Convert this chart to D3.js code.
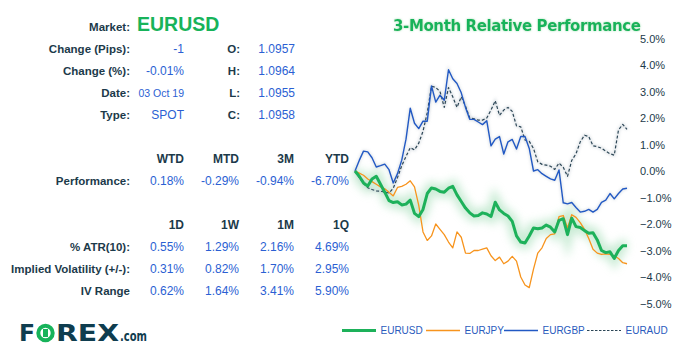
<!DOCTYPE html>
<html><head><meta charset="utf-8">
<script src="https://cdn.jsdelivr.net/npm/d3@7"></script>
<style>body{margin:0;background:#fff}svg{display:block}</style>
</head><body>
<svg id="c" width="678" height="356"></svg>
<script>
// ---- data ----
const market = "EURUSD";
const infoLabels = ["Change (Pips):", "Change (%):", "Date:", "Type:"];
const infoValues = ["-1", "-0.01%", "03 Oct 19", "SPOT"];
const ohlcLabels = ["O:", "H:", "L:", "C:"];
const ohlcValues = ["1.0957", "1.0964", "1.0955", "1.0958"];
const perfHeaders = ["WTD", "MTD", "3M", "YTD"];
const perfValues = ["0.18%", "-0.29%", "-0.94%", "-6.70%"];
const volHeaders = ["1D", "1W", "1M", "1Q"];
const volRows = ["% ATR(10):", "Implied Volatility (+/-):", "IV Range"];
const volValues = [
  ["0.55%", "1.29%", "2.16%", "4.69%"],
  ["0.31%", "0.82%", "1.70%", "2.95%"],
  ["0.62%", "1.64%", "3.41%", "5.90%"]
];
const yTicks = [5, 4, 3, 2, 1, 0, -1, -2, -3, -4, -5];
const seriesNames = ["EURUSD", "EURJPY", "EURGBP", "EURAUD"];
const eurusd = [0,-0.2,-0.45,-0.57,-0.3,-0.2,-0.5,-0.8,-1.12,-1.19,-1.16,-1.28,-1.25,-1.1,-1.6,-1.72,-1.45,-0.85,-0.64,-0.68,-0.77,-0.8,-0.65,-0.58,-0.9,-1.15,-1.4,-1.58,-1.7,-1.68,-1.58,-1.62,-1.72,-1.18,-1.47,-1.6,-1.7,-1.9,-2.45,-2.68,-2.72,-2.45,-2.15,-2.18,-2.15,-2.04,-2.12,-2.3,-1.86,-1.8,-2.4,-1.78,-2.1,-2.13,-2.25,-2.35,-2.33,-2.6,-3.0,-3.08,-3.05,-3.3,-3.0,-2.82,-2.82];
const eurjpy = [0,-0.08,-0.16,-0.3,-0.4,-0.5,-0.6,-0.67,-0.8,-0.94,-0.62,-0.58,-0.5,-0.37,-0.6,-1.3,-2.3,-2.62,-2.45,-2.0,-2.2,-2.4,-2.68,-2.9,-2.3,-2.5,-3.1,-3.11,-3.0,-3.0,-2.95,-2.9,-3.2,-3.38,-3.25,-3.5,-3.4,-3.22,-3.4,-4.0,-4.3,-4.4,-3.7,-3.1,-2.9,-2.55,-2.4,-2.37,-1.72,-1.68,-2.15,-1.65,-1.75,-1.95,-2.2,-2.55,-2.95,-3.1,-3.15,-3.13,-3.15,-3.2,-3.3,-3.46,-3.5];
const eurgbp = [0,0.4,0.75,0.72,0.5,0.15,0.2,0.26,0.05,-0.45,-0.1,0.41,1.2,2.37,1.8,1.6,1.88,1.88,3.21,2.6,2.86,2.67,3.82,3.48,3.3,2.95,2.4,1.95,1.95,1.85,1.75,1.9,0.95,1.2,1.3,0.64,1.1,1.19,0.83,1.3,1.3,0.85,0.0,0.05,-0.1,-0.2,-0.3,-0.35,0.04,-1.2,-1.24,-1.19,-1.38,-1.55,-1.52,-1.45,-1.55,-1.45,-1.18,-1.1,-0.85,-1.05,-0.85,-0.68,-0.65];
const euraud = [0,-0.25,-0.46,-0.63,-0.7,-0.75,-0.76,-0.8,-0.83,-0.65,-0.25,0.2,0.55,0.88,0.8,1.05,1.5,2.2,3.2,3.15,3.0,2.4,3.15,2.8,2.4,2.8,2.45,2.0,1.97,1.92,1.92,2.0,2.3,2.65,2.1,2.3,2.4,2.25,1.7,1.67,1.17,1.12,0.85,0.35,0.25,0.22,0.18,0.06,0.3,0.14,-0.2,0.4,0.65,1.1,1.35,1.3,0.95,0.92,0.86,0.75,0.65,0.6,1.55,1.76,1.57];

// ---- styles ----
const dark = "#1c3a4a", blue = "#2b5fd3", green = "#17b35a";
const colors = {EURUSD: "#1db15a", EURJPY: "#f7941d", EURGBP: "#2259c4", EURAUD: "#2c4656"};
const widths = {EURUSD: 3, EURJPY: 1.3, EURGBP: 1.4, EURAUD: 1.2};
const dashes = {EURUSD: null, EURJPY: null, EURGBP: null, EURAUD: "3,2"};

const svg = d3.select("#c");
const defs = svg.append("defs");
const glow = defs.append("filter").attr("id","glow").attr("x","-20%").attr("y","-50%").attr("width","140%").attr("height","200%");
glow.append("feGaussianBlur").attr("stdDeviation", 4);
const sh = defs.append("filter").attr("id","sh").attr("x","-20%").attr("y","-50%").attr("width","140%").attr("height","200%");
sh.append("feGaussianBlur").attr("stdDeviation", 1.5);
const tg = defs.append("filter").attr("id","tg").attr("x","-10%").attr("y","-50%").attr("width","120%").attr("height","200%");
tg.append("feGaussianBlur").attr("in","SourceAlpha").attr("stdDeviation",1.2).attr("result","b");
tg.append("feFlood").attr("flood-color","#8fd9a8").attr("flood-opacity",0.8);
tg.append("feComposite").attr("in2","b").attr("operator","in").attr("result","s");
const m = tg.append("feMerge"); m.append("feMergeNode").attr("in","s"); m.append("feMergeNode").attr("in","SourceGraphic");

const FONT = "'Liberation Sans', Arial, sans-serif";

// ---- left table ----
const L = svg.append("g").attr("font-family", FONT);
const labX = 130;
function lab(x, y, t, size, weight, col, anchor) {
  return L.append("text").attr("x", x).attr("y", y).attr("text-anchor", anchor || "end")
    .attr("font-size", size).attr("font-weight", weight).attr("fill", col).text(t);
}
lab(labX, 31, "Market:", 11.5, "bold", dark);
lab(137, 31, market, 19.5, "bold", green, "start");
const rowY = [49, 71, 93, 114.5];
infoLabels.forEach((t, i) => lab(labX, rowY[i] + 4, t, 11.5, "bold", dark));
infoValues.forEach((t, i) => lab(184, rowY[i] + 4, t, i === 2 ? 10.5 : 12, "normal", blue));
ohlcLabels.forEach((t, i) => lab(240, rowY[i] + 4, t, 11.5, "bold", dark));
ohlcValues.forEach((t, i) => lab(295, rowY[i] + 4, t, 12, "normal", blue));

const colX = [184, 239, 294, 349];
perfHeaders.forEach((t, i) => lab(colX[i], 162.5, t, 12, "bold", dark));
lab(labX, 185, "Performance:", 11.5, "bold", dark);
perfValues.forEach((t, i) => lab(colX[i], 185, t, 12, "normal", blue));
volHeaders.forEach((t, i) => lab(colX[i], 228.5, t, 12, "bold", dark));
const volY = [247, 268.5, 291];
volRows.forEach((t, r) => {
  lab(labX, volY[r] + 4, t, 11.5, "bold", dark);
  volValues[r].forEach((v, i) => lab(colX[i], volY[r] + 4, v, 12, "normal", blue));
});

// ---- chart ----
const n = eurusd.length;
const x = d3.scaleLinear().domain([0, n - 1]).range([355, 627]);
const y = d3.scaleLinear().domain([-5, 5]).range([303.5, 38.5]);

svg.append("text").attr("x", 393).attr("y", 31).attr("textLength", 248).attr("lengthAdjust", "spacing")
  .attr("font-family", "'DejaVu Sans', Verdana, sans-serif").attr("font-weight", "bold")
  .attr("font-size", 15).attr("fill", green).attr("filter", "url(#tg)").text("3-Month Relative Performance");

const yAxis = d3.axisRight(y).tickValues(yTicks).tickSize(0).tickPadding(0)
  .tickFormat(d => d3.format(".1f")(d) + "%");
const ya = svg.append("g").attr("transform", "translate(640,0)").call(yAxis);
ya.select(".domain").remove();
ya.selectAll("text").attr("font-family", FONT).attr("font-size", 11).attr("fill", dark);

const line = d3.line().x((d, i) => x(i)).y(d => y(d));
const data = {EURUSD: eurusd, EURJPY: eurjpy, EURGBP: eurgbp, EURAUD: euraud};

// shadows / glow
svg.append("path").datum(eurusd).attr("d", line).attr("fill", "none")
  .attr("stroke", "#9fdcb3").attr("stroke-width", 12).attr("opacity", 0.55).attr("filter", "url(#glow)");
["EURAUD", "EURGBP"].forEach(k => {
  svg.append("path").datum(data[k]).attr("d", line).attr("fill", "none")
    .attr("stroke", "#b9c3cc").attr("stroke-width", 2.5).attr("opacity", 0.5).attr("filter", "url(#sh)");
});
const order = ["EURAUD", "EURGBP", "EURJPY", "EURUSD"];
order.forEach(k => {
  svg.append("path").datum(data[k]).attr("d", line).attr("fill", "none")
    .attr("stroke", colors[k]).attr("stroke-width", widths[k])
    .attr("stroke-dasharray", dashes[k]).attr("stroke-linejoin", "round");
});

// ---- legend ----
const legX = [342, 426, 504, 587];
const lg = svg.append("g").attr("font-family", FONT);
seriesNames.forEach((k, i) => {
  lg.append("line").attr("x1", legX[i]).attr("x2", legX[i] + 34).attr("y1", 330.5).attr("y2", 330.5)
    .attr("stroke", colors[k]).attr("stroke-width", k === "EURUSD" ? 3 : (k === "EURAUD" ? 1 : 1.5))
    .attr("stroke-dasharray", k === "EURAUD" ? "2.5,1.5" : null);
  lg.append("text").attr("x", legX[i] + 38.5).attr("y", 334).attr("font-size", 10)
    .attr("fill", "#2a5bbd").text(k);
});

// ---- logo ----
const logo = svg.append("g").attr("font-family", "'DejaVu Sans', sans-serif").attr("font-weight", "bold");
const navy = "#0f3d4f";
logo.append("text").attr("x", 19).attr("y", 341).attr("font-size", 23).attr("fill", navy)
  .attr("textLength", 16).attr("lengthAdjust", "spacingAndGlyphs").text("F");
logo.append("circle").attr("cx", 45.5).attr("cy", 333).attr("r", 7.2).attr("fill", "none").attr("stroke", green).attr("stroke-width", 4);
logo.append("rect").attr("x", 43).attr("y", 329).attr("width", 5).attr("height", 8).attr("fill", green);
logo.append("text").attr("x", 56).attr("y", 341).attr("font-size", 23).attr("fill", navy)
  .attr("textLength", 63).attr("lengthAdjust", "spacingAndGlyphs").text("REX");
logo.append("text").attr("x", 120).attr("y", 341).attr("font-size", 13.5).attr("fill", navy)
  .attr("textLength", 27).attr("lengthAdjust", "spacingAndGlyphs").text(".com");
</script>
</body></html>
